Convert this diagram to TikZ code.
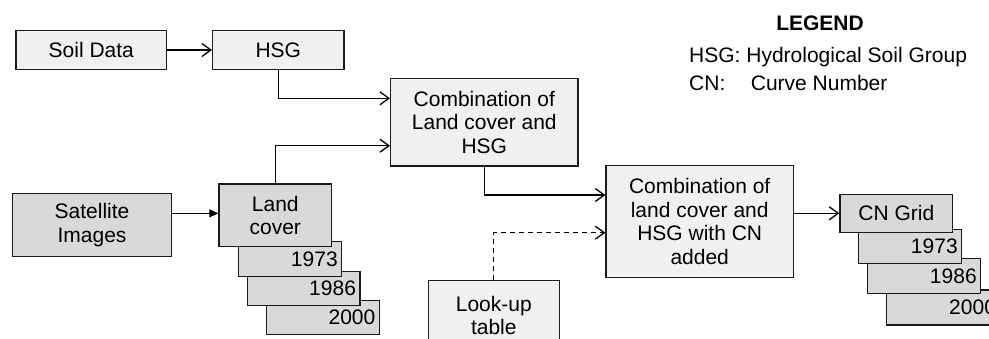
\documentclass[tikz,border=0pt]{standalone}
\usepackage{fontspec}
\setmainfont{Liberation Sans}
\usetikzlibrary{arrows.meta}
\definecolor{lightbox}{HTML}{F0F0F0}
\definecolor{darkbox}{HTML}{D9D9D9}
\definecolor{edge}{HTML}{1A1A1A}
\tikzset{
  base/.style={draw=edge, line width=1.3pt, inner sep=0pt, align=center,
    font=\fontsize{21}{23.5}\selectfont},
  lbox/.style={base, fill=lightbox},
  dbox/.style={base, fill=darkbox},
  yearbox/.style={dbox, text width=#1, align=right},
  arr/.style={draw=black, line width=1.3pt, -{Straight Barb[length=9pt,width=13pt,line width=1.3pt]}},
  farr/.style={draw=black, line width=1.3pt, -{Triangle[length=9pt,width=8pt]}},
  txt/.style={inner sep=0pt, font=\fontsize{21}{23.5}\selectfont},
}
\begin{document}
\begin{tikzpicture}[x=1pt,y=-1pt]
\useasboundingbox (0,0) rectangle (989,338);
\clip (0,0) rectangle (989,338);

% top row
\node[lbox, minimum width=150.7pt, minimum height=38.6pt] (soil) at (91.3,50) {Soil Data};
\node[lbox, minimum width=131.3pt, minimum height=38.6pt] (hsg) at (278.3,50) {HSG};
\node[lbox, minimum width=187.3pt, minimum height=87.7pt] (comb1) at (484.3,122.2) {Combination of\\Land cover and\\HSG};
\node[lbox, minimum width=187.3pt, minimum height=111.6pt] (comb2) at (699.7,221.5) {Combination of\\land cover and\\HSG with CN\\added};
\node[lbox, minimum width=131pt, minimum height=69.3pt] (lookup) at (493.8,315.3) {Look-up\\table};

% satellite and land cover stack
\node[dbox, minimum width=159.4pt, minimum height=63.4pt] (sat) at (92,225) {Satellite\\Images};
\node[yearbox=104.6pt, minimum width=112.6pt, minimum height=33.6pt] (lc2000) at (323,317.5) {2000};
\node[yearbox=104.3pt, minimum width=112.3pt, minimum height=34pt] (lc1986) at (303.8,288.7) {1986};
\node[yearbox=95.4pt, minimum width=103.4pt, minimum height=35pt] (lc1973) at (290,259.2) {1973};
\node[dbox, minimum width=112.7pt, minimum height=62.7pt] (lc) at (275.3,215.3) {Land\\cover};

% CN grid stack
\node[yearbox=105.3pt, minimum width=113.3pt, minimum height=35pt] (cn2000) at (943.3,307.5) {2000};
\node[yearbox=105pt, minimum width=113pt, minimum height=34.6pt] (cn1986) at (924.2,276) {1986};
\node[yearbox=95.4pt, minimum width=103.4pt, minimum height=34pt] (cn1973) at (910,246.3) {1973};
\node[dbox, minimum width=112.7pt, minimum height=38pt] (cn) at (896.3,213.3) {CN Grid};

% legend
\node[txt, font=\fontsize{21}{23.5}\selectfont\bfseries] (legend) at (820,23.3) {LEGEND};
\node[txt, anchor=west] (leg1) at (689,56.7) {HSG: Hydrological Soil Group};
\node[txt, anchor=west] (leg2a) at (689,83.3) {CN:};
\node[txt, anchor=west] (leg2b) at (750.7,83.3) {Curve Number};

% connectors
\draw[arr] (soil.east) -- (hsg.west);
\draw[arr] (hsg.south) |- (comb1.west |- 0,98.3);
\draw[arr] (lc.north) |- (comb1.west |- 0,145.7);
\draw[farr] (sat.east |- 0,213.3) -- (lc.west |- 0,213.3);
\draw[arr] (comb1.south) |- (comb2.west |- 0,195);
\draw[arr, dashed, dash pattern=on 5pt off 4pt] (lookup.north) |- (comb2.west |- 0,232.7);
\draw[arr] (comb2.east |- cn.west) -- (cn.west);
\end{tikzpicture}
\end{document}
